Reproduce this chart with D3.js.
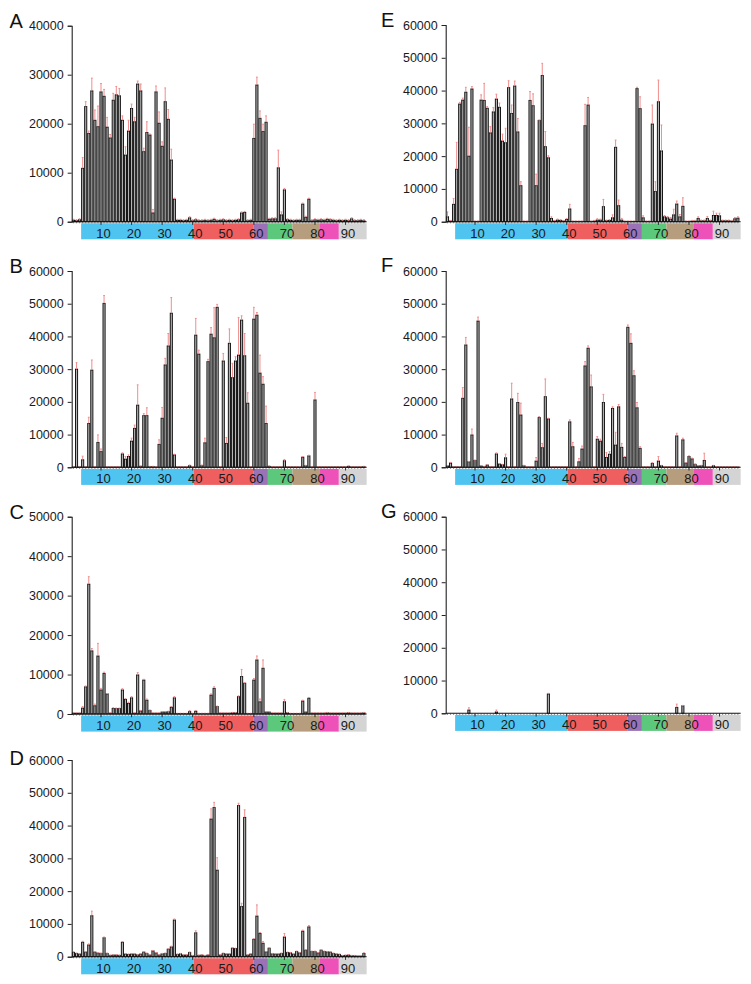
<!DOCTYPE html>
<html><head><meta charset="utf-8">
<script src="https://cdn.jsdelivr.net/npm/d3@7"></script>
<style>body{margin:0;background:#fff}svg{display:block}</style>
</head><body>
<svg id="chart" width="751" height="984"></svg>
<script>
// ---- data ----
const categories = [1,2,3,4,5,6,7,8,9,10,11,12,13,14,15,16,17,18,19,20,21,22,23,24,25,26,27,28,29,30,31,32,33,34,35,36,37,38,39,40,41,42,43,44,45,46,47,48,49,50,51,52,53,54,55,56,57,58,59,60,61,62,63,64,65,66,67,68,69,70,71,72,73,74,75,76,77,78,79,80,81,82,83,84,85,86,87,88,89,90,91,92,93,94,95,96];
const xTickLabels = [10,20,30,40,50,60,70,80,90];
const regionStarts = [3.5,40.3,59.8,64.6,72.6,81.4,87.8];
const regionEnds   = [40.3,59.8,64.6,72.6,81.4,87.8,96.9];
const regionColors = ["#4fc4f0","#ef5f5f","#9b72b6","#5cc87c","#b69d7e","#ee52b8","#d4d4d4"];

const yTicks40 = [0,10000,20000,30000,40000];
const yTicks50 = [0,10000,20000,30000,40000,50000];
const yTicks60 = [0,10000,20000,30000,40000,50000,60000];

const valuesA = [300,200,400,10900,23500,18000,26700,20700,19400,26500,25600,19300,17100,24800,25900,25700,20700,13600,18500,23100,20400,28100,26700,14300,18200,17700,1800,26500,20100,15400,24500,20900,12600,4600,300,300,200,300,800,200,400,200,200,300,200,300,500,200,300,400,200,300,200,300,400,1800,1900,200,300,17000,27900,21100,18400,20300,500,600,600,11000,1400,6500,400,300,200,300,300,3600,900,4600,200,400,300,400,300,500,400,300,200,300,200,300,200,600,200,200,300,200];
const sdA = [200,200,200,2200,1000,500,2600,2100,4200,1700,1400,2000,700,1400,1700,1500,900,1700,2200,900,900,600,1400,700,2200,200,700,1200,2300,900,2800,2000,2200,200,200,200,200,200,200,200,200,200,200,200,200,200,200,200,200,200,200,200,200,200,200,200,200,200,200,2900,1600,1500,1500,1300,200,200,200,3600,600,300,200,200,200,200,200,200,200,200,200,200,200,200,200,200,200,200,200,200,200,200,200,200,200,200,200,200];

const valuesB = [100,30000,100,2300,100,13400,29700,100,7600,4800,50100,100,100,100,100,100,4100,2500,3300,8000,11900,19000,300,15800,15800,200,200,100,7000,15000,31300,37100,47100,3800,100,100,100,100,500,100,40400,34600,500,7500,32300,40700,39600,48900,100,32500,7300,37900,27400,32500,34300,45000,34100,19600,100,45300,46500,28800,25400,13400,300,100,100,100,100,2000,100,100,100,100,100,3100,500,3500,100,20600,100,100,100,100,100,100,100,100,100,100,300,100,100,100,100,200];
const sdB = [100,2000,100,1100,100,1900,3100,100,2300,800,2400,100,100,100,100,100,300,800,500,900,1000,6200,100,600,2400,100,100,100,1400,3300,2000,3800,4800,200,100,100,100,100,200,100,5100,1200,200,1400,700,2000,9200,900,100,2300,1800,4400,4400,1300,11500,1300,6800,3200,100,3600,800,5500,2300,5300,100,100,100,100,100,400,100,100,100,100,100,200,100,200,100,2300,100,100,100,100,100,100,100,100,100,100,100,100,100,100,100,100];

const valuesC = [200,200,200,1500,6900,32900,16000,2100,14700,6100,10300,5100,200,1400,1400,1400,6100,3700,2700,4100,200,9900,800,8600,3500,900,200,200,200,500,500,600,1700,4100,100,100,100,100,600,100,700,100,100,100,100,4800,6500,1900,200,200,200,200,300,300,4400,9500,7800,100,100,8600,13700,3100,11600,500,500,200,200,200,200,3100,300,100,100,100,100,3300,500,4000,200,200,200,200,200,300,200,200,200,200,200,200,300,200,200,200,200,300];
const sdC = [100,100,100,400,200,1900,600,400,3200,400,300,100,100,200,100,100,300,200,300,300,100,600,100,200,300,100,100,100,100,100,100,100,200,300,100,100,100,100,300,100,200,100,100,100,100,300,400,100,100,100,100,100,100,100,200,1800,100,100,100,400,1000,700,2100,100,100,100,100,100,100,600,100,100,100,100,100,200,100,200,100,100,100,100,100,100,100,100,100,100,100,100,100,100,100,100,100,100];

const valuesD = [1300,1000,800,4400,1400,3600,12500,1400,1100,1000,5800,1000,400,500,500,400,4400,800,700,800,800,600,800,1400,1000,500,1800,1200,500,900,1000,2300,3000,11200,700,900,500,500,1300,300,7300,400,500,300,500,42000,45500,26400,500,1000,800,800,2600,2500,46100,15300,42500,500,800,5300,12400,7100,4100,1500,2600,900,800,800,1000,6000,1300,1200,800,1600,1200,7800,2000,9100,1600,1600,1200,2000,1600,1500,1400,1000,800,700,300,400,500,300,300,200,200,1000];
const sdD = [200,100,100,300,100,300,1400,100,100,100,200,100,100,100,100,100,200,100,100,100,100,100,100,100,100,100,100,100,100,100,100,100,200,300,100,100,100,100,100,100,600,100,100,100,100,3100,1600,3800,100,100,100,100,100,100,700,1000,2300,100,100,200,3400,300,500,100,100,100,100,100,100,1100,100,100,100,100,100,300,100,400,100,100,100,100,100,100,100,100,100,100,100,100,100,100,100,100,100,200];

const valuesE = [1500,200,5300,16000,35900,37100,39500,20000,40500,100,100,37100,37000,34600,27100,33500,37400,34900,24600,24100,40900,33000,41400,27400,11000,100,100,37000,35400,11000,30900,44600,22900,19500,1000,200,500,400,200,700,3900,100,100,100,100,29300,35600,100,200,500,500,4600,300,400,1200,22700,4900,500,100,100,100,100,40600,34500,1200,100,100,29800,9200,36600,21600,1500,1200,800,2100,5400,1500,4700,100,100,200,200,1000,300,300,1000,300,1900,1900,1800,300,300,300,200,900,1100];
const sdE = [1500,200,1800,8200,500,600,1500,8800,700,100,100,1600,5200,500,1900,1300,1500,1300,2100,4400,2100,2600,1500,4100,1200,100,100,2700,3600,3500,100,3700,4600,600,500,200,300,200,200,300,1400,100,100,100,100,6500,2300,100,200,400,300,2200,200,200,900,2200,1700,500,100,100,100,100,400,3600,600,100,100,5800,3000,6600,7900,400,400,500,1700,900,700,2600,100,100,200,200,500,200,200,600,200,1300,700,800,200,200,200,200,400,400];

const valuesF = [400,1300,100,100,100,21100,37400,1700,9900,2100,44700,400,200,700,100,100,4100,1000,800,2900,100,20900,100,19800,16000,500,100,100,100,1900,15200,6000,21600,14800,100,100,100,100,100,100,13900,6300,100,1700,5600,31000,36400,24600,100,8600,8000,19800,3000,4000,18000,6800,18500,6100,3000,42800,37900,28000,18200,5800,100,100,100,1200,100,1900,500,100,100,100,100,9600,100,8400,1300,3300,2600,900,400,500,2100,100,100,500,100,100,100,100,100,100,100,100];
const sdF = [100,200,100,100,100,3300,2300,100,1800,100,1200,100,100,100,100,100,300,100,100,1100,100,4800,100,2800,3600,100,100,100,100,1100,300,1300,5400,200,100,100,100,100,100,100,600,1300,100,1000,900,1300,700,3600,100,800,600,2500,1500,800,500,3900,700,1200,300,700,2900,1500,1600,500,100,100,100,200,100,1400,100,100,100,100,100,800,100,500,100,200,200,100,100,100,2200,100,100,100,100,100,100,100,100,100,100,100];

const valuesG = [0,0,0,0,0,0,0,1000,0,0,0,0,0,0,0,0,400,0,0,0,0,0,0,0,0,0,0,0,0,0,0,0,0,5900,0,0,0,0,0,0,0,0,0,0,0,0,0,0,0,0,0,0,0,0,0,0,0,0,0,0,0,0,0,0,0,0,0,0,0,0,0,0,0,0,0,1800,0,2300,0,0,0,0,0,0,0,0,0,0,0,0,0,0,0,0,0,0];
const sdG = [0,0,0,0,0,0,0,700,0,0,0,0,0,0,0,0,600,0,0,0,0,0,0,0,0,0,0,0,0,0,0,0,0,200,0,0,0,0,0,0,0,0,0,0,0,0,0,0,0,0,0,0,0,0,0,0,0,0,0,0,0,0,0,0,0,0,0,0,0,0,0,0,0,0,0,1000,0,100,0,0,0,0,0,0,0,0,0,0,0,0,0,0,0,0,0,0];

// ---- layout ----
const panels = [
  {label:"A", values:valuesA, sd:sdA, ticks:yTicks40, axisX:71.7,  y0:221.7, yTop:25.7,  lx:9.5,   ly:27.5},
  {label:"E", values:valuesE, sd:sdE, ticks:yTicks60, axisX:445.7, y0:221.7, yTop:25,    lx:381,   ly:27},
  {label:"B", values:valuesB, sd:sdB, ticks:yTicks60, axisX:71.7,  y0:467.3, yTop:271,   lx:9.5,   ly:272.5},
  {label:"F", values:valuesF, sd:sdF, ticks:yTicks60, axisX:445.7, y0:467.3, yTop:271,   lx:381,   ly:272},
  {label:"C", values:valuesC, sd:sdC, ticks:yTicks50, axisX:71.7,  y0:714,   yTop:516.7, lx:9.5,   ly:518.5},
  {label:"G", values:valuesG, sd:sdG, ticks:yTicks60, axisX:445.7, y0:713.3, yTop:516.7, lx:381,   ly:518.3},
  {label:"D", values:valuesD, sd:sdD, ticks:yTicks60, axisX:71.7,  y0:956.7, yTop:760,   lx:9.5,   ly:765}
];

const svg = d3.select("#chart");
const FONT = "'Liberation Sans', Arial, Helvetica, sans-serif";

panels.forEach(p => {
  const g = svg.append("g");
  const x = d3.scaleLinear().domain([0, 96]).range([p.axisX - 1.27, p.axisX - 1.27 + 3.057 * 96]);
  const y = d3.scaleLinear().domain([0, d3.max(p.ticks)]).range([p.y0, p.yTop]);
  const bw = 2.1;

  // panel letter
  g.append("text").attr("x", p.lx).attr("y", p.ly)
    .attr("font-family", FONT).attr("font-size", 20).attr("fill", "#111").text(p.label);

  // colour strip
  g.selectAll("rect.region").data(regionStarts).enter().append("rect")
    .attr("class","region")
    .attr("x", (d) => x(d))
    .attr("width", (d,i) => x(regionEnds[i]) - x(d))
    .attr("y", p.y0 + 1.6).attr("height", 16)
    .attr("fill", (d,i) => regionColors[i]);

  // bars
  g.selectAll("rect.bar").data(p.values).enter().append("rect")
    .attr("class","bar")
    .attr("x", (d,i) => x(categories[i]) - bw/2)
    .attr("width", bw)
    .attr("y", d => y(d))
    .attr("height", d => p.y0 - y(d))
    .attr("fill", "#b4b4b4").attr("stroke", "#0d0d0d").attr("stroke-width", 0.95);

  // error bars
  const eb = g.selectAll("g.err").data(p.values.map((v,i) => ({v, s:p.sd[i], c:categories[i]})).filter(d => d.s > 0))
    .enter().append("g").attr("class","err");
  eb.append("line")
    .attr("x1", d => x(d.c)).attr("x2", d => x(d.c))
    .attr("y1", d => y(d.v)).attr("y2", d => y(d.v + d.s))
    .attr("stroke", "#f08d8d").attr("stroke-width", 1);
  eb.append("line")
    .attr("x1", d => x(d.c) - 0.9).attr("x2", d => x(d.c) + 0.9)
    .attr("y1", d => y(d.v + d.s)).attr("y2", d => y(d.v + d.s))
    .attr("stroke", "#f08d8d").attr("stroke-width", 1);

  // baseline with minor ticks
  g.append("line").attr("x1", p.axisX).attr("x2", x(96.9))
    .attr("y1", p.y0).attr("y2", p.y0).attr("stroke", "#111").attr("stroke-width", 1.1);
  g.selectAll("line.minor").data(categories).enter().append("line")
    .attr("class","minor")
    .attr("x1", d => x(d)).attr("x2", d => x(d))
    .attr("y1", p.y0).attr("y2", p.y0 + 1.6)
    .attr("stroke", "#333").attr("stroke-width", 0.6);

  // x tick marks and labels inside strip
  g.selectAll("line.xt").data(xTickLabels).enter().append("line")
    .attr("class","xt")
    .attr("x1", d => x(d)).attr("x2", d => x(d))
    .attr("y1", p.y0).attr("y2", p.y0 + 3.2)
    .attr("stroke", "#222").attr("stroke-width", 0.9);
  g.selectAll("text.xl").data(xTickLabels).enter().append("text")
    .attr("class","xl")
    .attr("x", d => x(d) + 2.5).attr("y", p.y0 + 16)
    .attr("text-anchor","middle")
    .attr("font-family", FONT).attr("font-size", 13).attr("fill", "#1a1a1a")
    .text(d => d);

  // y axis
  const ax = d3.axisLeft(y).tickValues(p.ticks).tickSize(4).tickPadding(4).tickFormat(d3.format("d"));
  const ag = g.append("g").attr("transform", `translate(${p.axisX},0)`).call(ax);
  ag.select(".domain").attr("stroke", "#222").attr("stroke-width", 1.1);
  ag.selectAll(".tick line").attr("stroke", "#222").attr("stroke-width", 1);
  ag.selectAll(".tick text").attr("font-family", FONT).attr("font-size", 12.5).attr("fill", "#1a1a1a");
});
</script>
</body></html>
